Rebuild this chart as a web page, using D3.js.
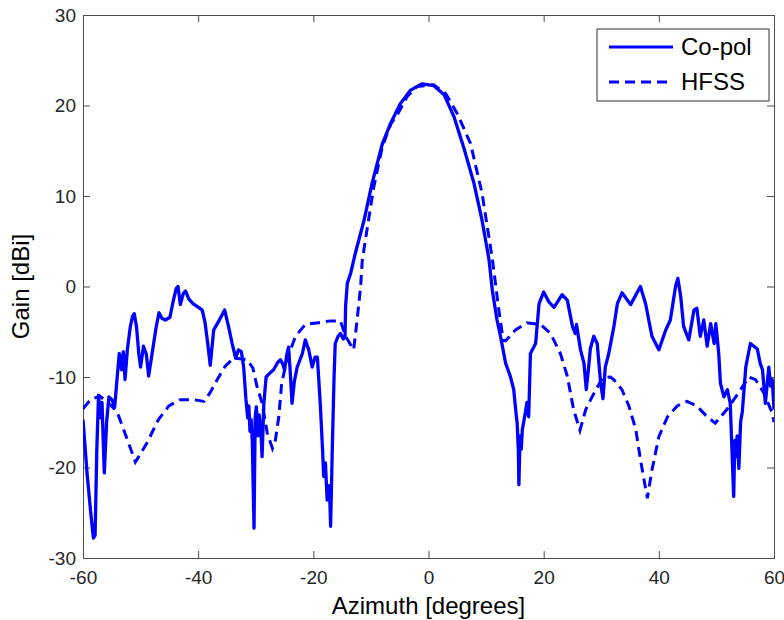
<!DOCTYPE html>
<html lang="en">

<head>
  <meta charset="UTF-8">
  <title>Gain vs. Azimuth</title>
  <script src="https://d3js.org/d3.v7.min.js"></script>
  <style>
    body {
      margin: 0;
      background: #ffffff;
      font-family: "Liberation Sans", Arial, sans-serif;
    }

    .axis path,
    .axis line {
      stroke: #4d4d4d;
    }

    .axis text {
      fill: #262626;
      font-size: 19px;
      font-family: "Liberation Sans", Arial, sans-serif;
    }
  </style>
</head>

<body>
  <div id="chart"></div>
  <script>
    // measured co-pol gain [deg, dBi]
    const coPol = [
      [-60, -14.7], [-59.3, -20.6], [-58.7, -24.7], [-58.2, -27.8], [-57.9, -27.5], [-57.6, -18],
      [-57.3, -12.0], [-57.0, -14.5], [-56.7, -12.8], [-56.3, -20.6], [-55.9, -15], [-55.5, -12.2],
      [-55.0, -12.5], [-54.5, -13.3], [-54.1, -10.3], [-53.7, -7.4], [-53.3, -9.2], [-53.0, -7.2],
      [-52.7, -10.3], [-52.3, -7], [-51.8, -4.5], [-51.4, -3.3], [-51.1, -3.0], [-50.7, -4.5],
      [-50.3, -7.5], [-50.0, -8.9], [-49.5, -6.6], [-49.0, -7.5], [-48.6, -9.9], [-48.0, -7.4],
      [-47.3, -4.5], [-46.8, -2.9], [-46.3, -3.5], [-45.7, -3.7], [-44.9, -3.4], [-44.3, -1.5],
      [-43.8, -0.2], [-43.5, 0.0], [-43.1, -2.0], [-42.6, -0.8], [-42.2, -0.5], [-41.6, -1.4],
      [-40.9, -1.9], [-40.2, -2.2], [-39.3, -2.6], [-38.8, -4.0], [-38.4, -6.0], [-37.9, -8.7],
      [-37.3, -4.8], [-36.4, -3.8], [-35.4, -2.6], [-34.7, -4.5], [-34.1, -6.3], [-33.5, -7.9],
      [-33.0, -7.0], [-32.5, -7.2], [-32.1, -8.9], [-31.7, -12.5], [-31.4, -14.5], [-31.2, -13.2],
      [-31.0, -16], [-30.8, -14.7], [-30.6, -17], [-30.3, -26.7], [-30.1, -14.5], [-29.9, -13.3],
      [-29.6, -16.5], [-29.4, -14.2], [-29.1, -16], [-28.9, -18.8], [-28.6, -13], [-28.2, -10.0],
      [-27.6, -9.6], [-26.9, -9.2], [-26.2, -8.4], [-25.7, -8.1], [-25.3, -8.6], [-25.0, -9.2],
      [-24.6, -7.5], [-24.3, -6.7], [-24.0, -9.5], [-23.7, -12.9], [-23.3, -10.5], [-22.8, -8.9],
      [-21.9, -7.4], [-21.4, -5.9], [-20.8, -7], [-20.2, -8.9], [-19.7, -7.8], [-19.3, -7.8],
      [-18.8, -12.9], [-18.4, -18], [-18.2, -21.0], [-17.9, -19.5], [-17.6, -23.6], [-17.2, -22],
      [-17.0, -26.5], [-16.7, -17.7], [-16.4, -10], [-16.2, -6.3], [-15.7, -5.5], [-15.3, -5.2],
      [-14.8, -5.8], [-14.5, -5.5], [-14.4, -2.2], [-14.1, 0.35], [-13.5, 1.5], [-12.7, 3.7],
      [-11.2, 7.3], [-9.8, 11.4], [-8.0, 15.8], [-6.6, 18.0], [-4.9, 20.2], [-3.1, 21.7],
      [-1.1, 22.4], [0.9, 22.2], [2.7, 21.2], [4.4, 18.8], [6.1, 15.4], [7.9, 11.4],
      [9.3, 7.3], [10.5, 3.0], [11.1, -0.5], [11.9, -3.7], [12.5, -5.5], [13.4, -8.5],
      [14.2, -9.9], [14.8, -11.4], [15.2, -14], [15.4, -15.1], [15.6, -18], [15.7, -21.9],
      [15.9, -16.5], [16.1, -18], [16.3, -15.8], [16.8, -14.0], [17.1, -12.8], [17.4, -14.4],
      [17.7, -7.4], [18.6, -6.3], [19.2, -1.9], [20.0, -0.6], [20.9, -1.7], [21.8, -2.3],
      [23.2, -0.9], [24.1, -1.5], [25.0, -4.4], [25.5, -5.2], [25.7, -4.2], [26.4, -7.0],
      [27.0, -8.5], [27.4, -11.4], [27.8, -9], [28.1, -6.9], [28.7, -5.5], [29.3, -6.3],
      [29.9, -10.7], [30.3, -12.4], [30.7, -8.9], [31.3, -7.4], [32.2, -4.4], [32.8, -1.9],
      [33.6, -0.7], [35.1, -2.0], [36.8, 0.0], [37.7, -1.9], [38.8, -5.5], [40.0, -7.0],
      [41.2, -4.8], [42.0, -3.7], [42.9, 0.0], [43.3, 0.9], [43.8, -1.1], [44.3, -4.4],
      [45.2, -5.9], [46.1, -2.6], [46.6, -2.4], [47.2, -5.5], [47.8, -3.7], [48.4, -6.6],
      [49.0, -4.1], [49.6, -6.3], [49.9, -4.1], [50.4, -7.4], [50.7, -10.7], [51.3, -12.2],
      [51.9, -11.4], [52.4, -12.9], [52.7, -18.1], [53.0, -23.2], [53.2, -17], [53.4, -18.8],
      [53.6, -16.5], [53.9, -20.1], [54.2, -15], [54.5, -13.8], [55.1, -8.9], [55.9, -6.3],
      [57.1, -6.9], [57.6, -8.5], [58.0, -9.2], [58.5, -12.9], [59.1, -8.9], [59.4, -11],
      [59.7, -10.3], [60.0, -13.6]
    ];

    // simulated gain [deg, dBi]
    const hfss = [
      [-60, -13.5], [-58.7, -12.5], [-57.1, -12.1], [-55.9, -12.7], [-54.1, -13.8], [-52.6, -16.4],
      [-50.9, -19.4], [-48.9, -17.3], [-46.9, -14.7], [-45.1, -13.2], [-43.1, -12.5], [-40.8, -12.5],
      [-39.0, -12.7], [-37.9, -11.7], [-36.7, -10.3], [-35.3, -8.8], [-33.8, -7.9], [-31.5, -8.1],
      [-30.5, -9], [-29.8, -11.0], [-28.9, -12.9], [-28.0, -16.2], [-27.1, -17.9], [-26.6, -17.0],
      [-26.0, -14.4], [-25.5, -10.7], [-24.6, -8.1], [-23.1, -5.5], [-21.4, -4.2], [-19.1, -4.0],
      [-17.0, -3.8], [-15.3, -3.8], [-14.4, -5.5], [-13.0, -7.0], [-12.4, -3.7], [-11.8, -0.1],
      [-11.5, 2.9], [-10.5, 7], [-9.5, 11], [-8.0, 15.5], [-6.5, 18], [-5.4, 19.0],
      [-3.7, 21.0], [-2.0, 22.1], [0.9, 22.3], [3.0, 21.3], [5.0, 19.1], [7.3, 15.8],
      [9.3, 10.3], [11.1, 3.0], [12.3, -3], [13.0, -6.0], [13.4, -6.0], [15.1, -4.8],
      [17.1, -4.0], [19.5, -4.2], [21.2, -5.2], [22.9, -7.4], [24.1, -9.9], [25.2, -13.6],
      [26.3, -15.9], [27.3, -13.6], [28.4, -12.2], [30.2, -10.1], [31.6, -10.0], [32.2, -10.3],
      [33.6, -11.4], [34.8, -13.2], [36.0, -15.8], [36.8, -19.1], [38.0, -23.4], [38.8, -20.3],
      [40.0, -16.6], [41.5, -14.4], [43.2, -13.2], [44.9, -12.7], [46.6, -13.2], [48.4, -14.4],
      [49.8, -15.1], [51.8, -13.6], [53.9, -11.7], [55.6, -10.0], [56.8, -10.3], [58.2, -11.7],
      [59.7, -14.0], [60, -15]
    ];

    const xTicks = [-60, -40, -20, 0, 20, 40, 60];
    const yTicks = [-30, -20, -10, 0, 10, 20, 30];
    const seriesNames = ["Co-pol", "HFSS"];

    const margin = {top: 15, right: 10, bottom: 62, left: 83},
      width = 784 - margin.left - margin.right,
      height = 620 - margin.top - margin.bottom;

    const svg = d3.select("#chart")
      .append("svg")
      .attr("width", 784)
      .attr("height", 620)
      .append("g")
      .attr("transform", "translate(" + margin.left + "," + margin.top + ")");

    const x = d3.scaleLinear().domain([-60, 60]).range([0, width]);
    const y = d3.scaleLinear().domain([-30, 30]).range([height, 0]);

    svg.append("defs").append("clipPath")
      .attr("id", "clip")
      .append("rect")
      .attr("width", width)
      .attr("height", height);

    // axes with inward ticks, mirrored on top and right like a boxed plot
    svg.append("g")
      .attr("class", "axis")
      .attr("transform", "translate(0," + height + ")")
      .call(d3.axisBottom(x).tickValues(xTicks).tickSizeInner(-7).tickSizeOuter(0).tickPadding(13));

    svg.append("g")
      .attr("class", "axis")
      .call(d3.axisLeft(y).tickValues(yTicks).tickSizeInner(-7).tickSizeOuter(0).tickPadding(7));

    svg.append("g")
      .attr("class", "axis")
      .call(d3.axisTop(x).tickValues(xTicks).tickSizeInner(-7).tickSizeOuter(0).tickFormat(""));

    svg.append("g")
      .attr("class", "axis")
      .attr("transform", "translate(" + width + ",0)")
      .call(d3.axisRight(y).tickValues(yTicks).tickSizeInner(-7).tickSizeOuter(0).tickFormat(""));

    svg.selectAll(".axis text").text(function () { return this.textContent.replace("−", "-"); });

    const line = d3.line()
      .x(d => x(d[0]))
      .y(d => y(d[1]));

    const plot = svg.append("g").attr("clip-path", "url(#clip)");

    plot.append("path")
      .datum(hfss)
      .attr("fill", "none")
      .attr("stroke", "#0000ff")
      .attr("stroke-width", 3)
      .attr("stroke-dasharray", "10,6")
      .attr("d", line);

    plot.append("path")
      .datum(coPol)
      .attr("fill", "none")
      .attr("stroke", "#0000ff")
      .attr("stroke-width", 3.3)
      .attr("stroke-linejoin", "round")
      .attr("d", line);

    // legend
    const legend = svg.append("g")
      .attr("transform", "translate(" + (597 - margin.left) + "," + (29 - margin.top) + ")");

    legend.append("rect")
      .attr("width", 172)
      .attr("height", 72)
      .attr("fill", "white")
      .attr("stroke", "#333");

    seriesNames.forEach((name, i) => {
      const ly = 18 + i * 35;
      legend.append("line")
        .attr("x1", 12).attr("x2", 76)
        .attr("y1", ly).attr("y2", ly)
        .attr("stroke", "#0000ff")
        .attr("stroke-width", 3)
        .attr("stroke-dasharray", i === 1 ? "10,6" : null);
      legend.append("text")
        .attr("x", 84)
        .attr("y", ly + 8)
        .attr("font-size", "24px")
        .attr("fill", "#000")
        .text(name);
    });

    // axis labels
    svg.append("text")
      .attr("text-anchor", "middle")
      .attr("x", x(0))
      .attr("y", height + 56)
      .attr("font-size", "24px")
      .attr("fill", "#000")
      .text("Azimuth [degrees]");

    svg.append("text")
      .attr("text-anchor", "middle")
      .attr("transform", "rotate(-90)")
      .attr("x", -y(0))
      .attr("y", -54)
      .attr("font-size", "24px")
      .attr("fill", "#000")
      .text("Gain [dBi]");
  </script>
</body>

</html>
